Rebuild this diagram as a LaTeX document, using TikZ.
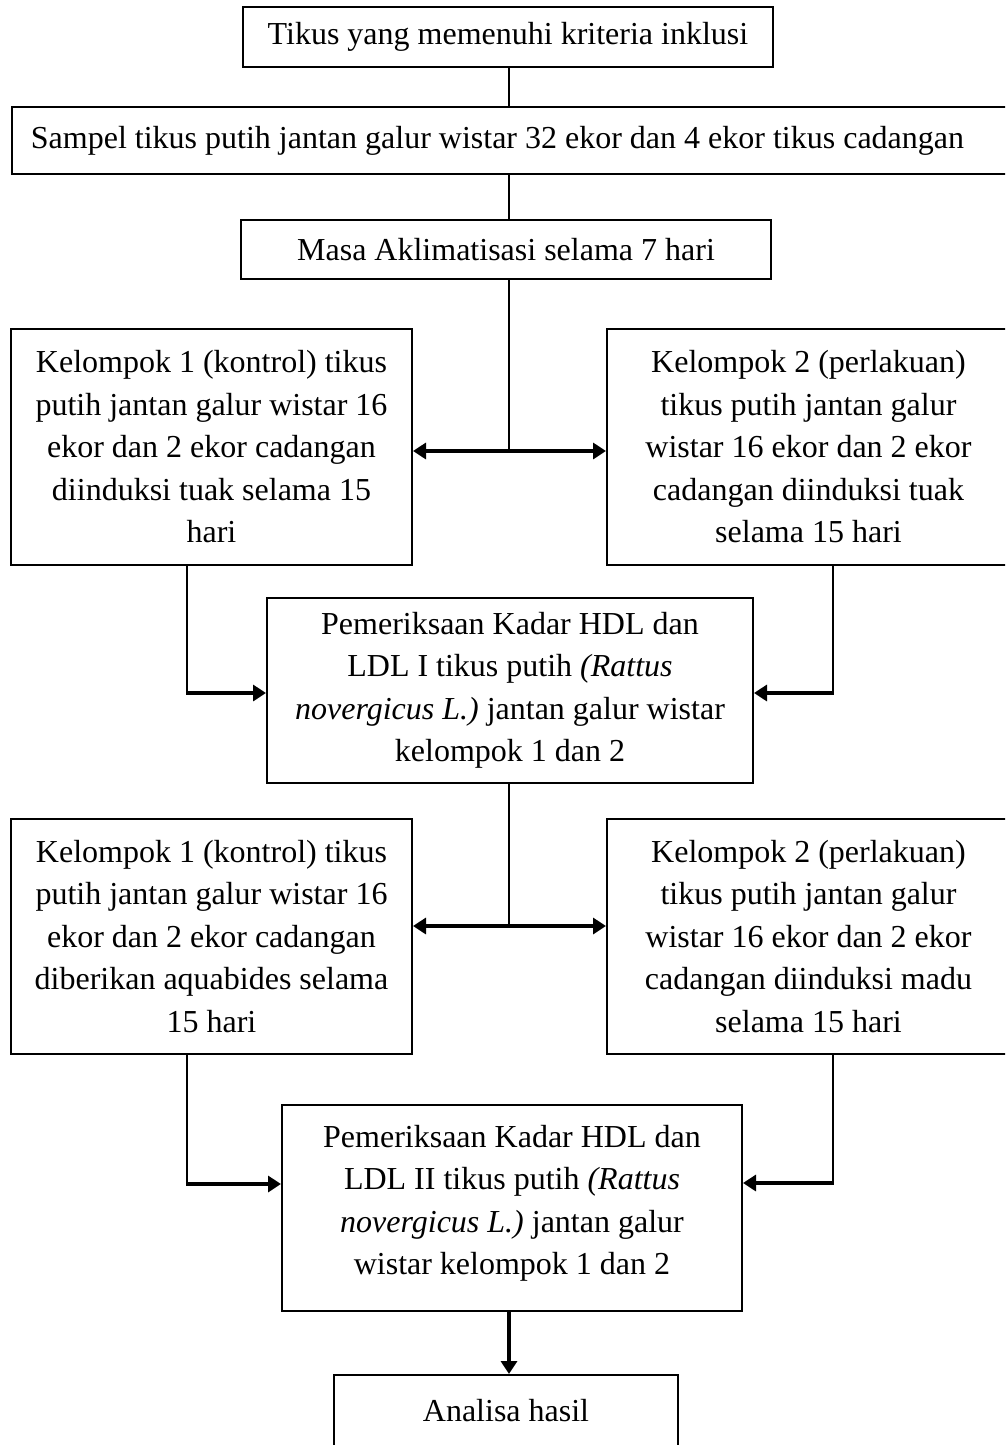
\documentclass[tikz,border=0pt]{standalone}
\usepackage{fontspec}
\setmainfont{Liberation Serif}
\usetikzlibrary{arrows.meta}
\begin{document}
\begin{tikzpicture}[x=1pt,y=-1pt,
  box/.style={draw, line width=2pt, align=center, inner sep=0pt,
    font=\fontsize{32}{42.5}\selectfont},
  thinline/.style={line width=1.3pt},
  arr/.style={line width=3.4pt, -{Triangle[length=13pt,width=16pt]}},
  darr/.style={line width=3.4pt, {Triangle[length=13pt,width=16pt]}-{Triangle[length=13pt,width=16pt]}}]
\clip (0,0) rectangle (1005,1445);
\useasboundingbox (0,0) rectangle (1005,1445);
\fill[white] (0,0) rectangle (1005,1445);

\node[box, minimum width=530, minimum height=60] (t1) at (508,37) {Tikus yang memenuhi kriteria inklusi};
\node[box, minimum width=998, minimum height=67] (t2) at (511,140.5) {\hspace*{-27pt}Sampel tikus putih jantan galur wistar 32 ekor dan 4 ekor tikus cadangan};
\node[box, minimum width=530, minimum height=59] (t3) at (506,249.5) {Masa Aklimatisasi selama 7 hari};

\node[box, minimum width=401, minimum height=236] (k1) at (211.5,447) {Kelompok 1 (kontrol) tikus\\putih jantan galur wistar 16\\ekor dan 2 ekor cadangan\\diinduksi tuak selama 15\\hari};
\node[box, minimum width=403, minimum height=236] (k2) at (808.5,447) {Kelompok 2 (perlakuan)\\tikus putih jantan galur\\wistar 16 ekor dan 2 ekor\\cadangan diinduksi tuak\\selama 15 hari};

\node[box, minimum width=486, minimum height=185] (p1) at (510,690.5) {Pemeriksaan Kadar HDL dan\\LDL I tikus putih \textit{(Rattus}\\\textit{novergicus L.)} jantan galur wistar\\kelompok 1 dan 2};

\node[box, minimum width=401, minimum height=235] (k3) at (211.5,936.5) {Kelompok 1 (kontrol) tikus\\putih jantan galur wistar 16\\ekor dan 2 ekor cadangan\\diberikan aquabides selama\\15 hari};
\node[box, minimum width=403, minimum height=235] (k4) at (808.5,936.5) {Kelompok 2 (perlakuan)\\tikus putih jantan galur\\wistar 16 ekor dan 2 ekor\\cadangan diinduksi madu\\selama 15 hari};

\node[box, minimum width=460, minimum height=206] (p2) at (512,1208) {Pemeriksaan Kadar HDL dan\\LDL II tikus putih \textit{(Rattus}\\\textit{novergicus L.)} jantan galur\\wistar kelompok 1 dan 2\rule[-16pt]{0pt}{0pt}};

\node[box, minimum width=344, minimum height=90] (a) at (506,1420) {Analisa hasil\rule[-20pt]{0pt}{0pt}};

% spine and junctions
\coordinate (sp) at (509,0);
\coordinate (j1) at (509,451);
\coordinate (j2) at (509,926);
\coordinate (l1) at (187,693);
\coordinate (r1) at (833,693);
\coordinate (l2) at (187,1184);
\coordinate (r2) at (833,1183);

\draw[thinline] (sp |- t1.south) -- (sp |- t2.north);
\draw[thinline] (sp |- t2.south) -- (sp |- t3.north);
\draw[thinline] (sp |- t3.south) -- (j1);
\draw[darr] (k1.east |- j1) -- (k2.west |- j1);

\draw[thinline] (l1 |- k1.south) -- (l1);
\draw[arr] ([xshift=-0.65pt]l1) -- (p1.west |- l1);
\draw[thinline] (r1 |- k2.south) -- (r1);
\draw[arr] ([xshift=0.65pt]r1) -- (p1.east |- r1);

\draw[thinline] (sp |- p1.south) -- (j2);
\draw[darr] (k3.east |- j2) -- (k4.west |- j2);

\draw[thinline] (l2 |- k3.south) -- (l2);
\draw[arr] ([xshift=-0.65pt]l2) -- (p2.west |- l2);
\draw[thinline] (r2 |- k4.south) -- (r2);
\draw[arr] ([xshift=0.65pt]r2) -- (p2.east |- r2);

\draw[arr] (sp |- p2.south) -- (sp |- a.north);
\end{tikzpicture}
\end{document}
